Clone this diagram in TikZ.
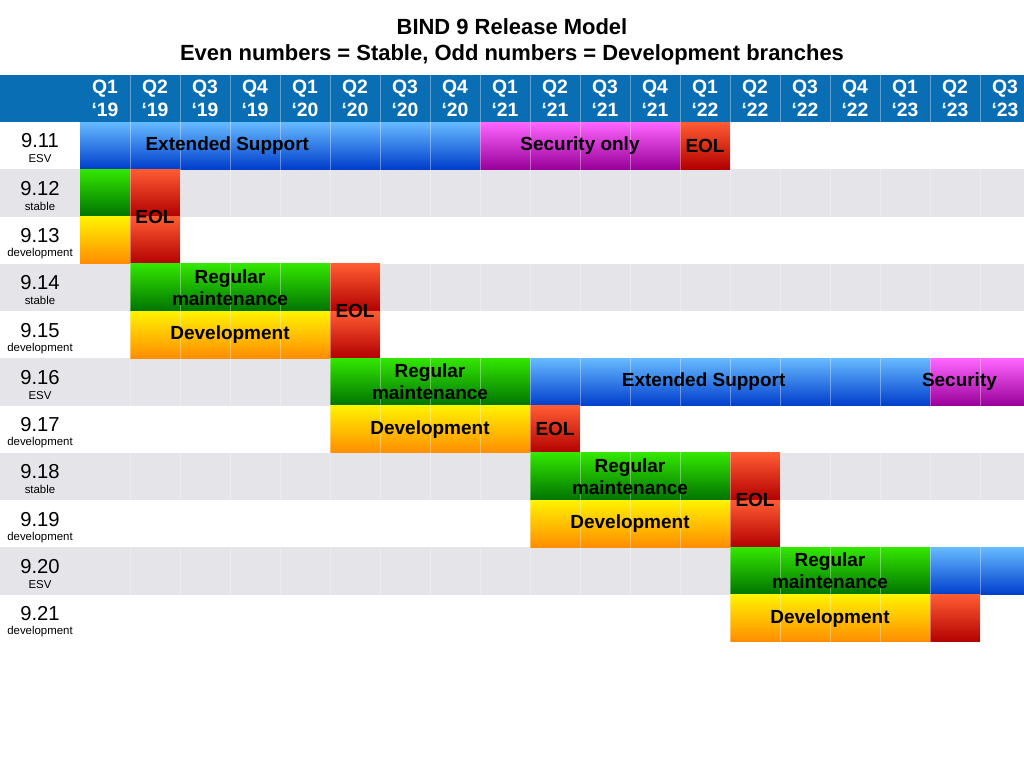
\documentclass[tikz,border=0pt]{standalone}
\usepackage{fontspec}
\setmainfont{Liberation Sans}
\usetikzlibrary{positioning,calc}

\definecolor{hdrblue}{HTML}{0A6EB4}
\definecolor{rowgray}{HTML}{E4E4E9}

\tikzset{
  blueph/.style  = {top color=blue!45!cyan!60, bottom color=blue!70!cyan!80!black},
  greenph/.style = {top color=green!70!black!40!green!80!yellow, bottom color=green!45!black},
  orangeph/.style= {top color=yellow!90!orange, bottom color=orange!90!yellow},
  redph/.style   = {top color=red!60!orange!80!white, bottom color=red!70!black},
  magph/.style   = {top color=magenta!60!white, bottom color=magenta!60!black},
  phlabel/.style = {font=\bfseries\fontsize{10.8}{12.5}\selectfont, align=center, inner sep=0pt},
  qlabel/.style  = {font=\bfseries\fontsize{11}{13}\selectfont, white, align=center, inner sep=0pt},
  verlabel/.style= {font=\fontsize{11.5}{12}\selectfont, inner sep=0pt},
  sublabel/.style= {font=\fontsize{6.5}{7}\selectfont, inner sep=0pt}
}

% \phase{name}{first col}{last col}{row}{style}
\newcommand\phase[5]{%
  \shade[#5] ({80+50*#2},{122+47.27*#4}) rectangle ({min(1024,130+50*#3)},{122+47.27*(#4+1)});
  \coordinate (#1) at ({(80+50*#2+min(1024,130+50*#3))/2},{122+47.27*(#4+0.5)});
}

\begin{document}
\begin{tikzpicture}[x=0.02cm, y=-0.02cm]
  \useasboundingbox (0,0) rectangle (1024,768);

  % title
  \node[font=\bfseries\fontsize{12.5}{15}\selectfont, align=center] (title) at (512,42)
    {BIND 9 Release Model\\Even numbers = Stable, Odd numbers = Development branches};

  % header
  \fill[hdrblue] (0,75) rectangle (1024,122);
  \foreach \q/\yr [count=\c from 0] in {1/19,2/19,3/19,4/19,1/20,2/20,3/20,4/20,1/21,2/21,3/21,4/21,1/22,2/22,3/22,4/22,1/23,2/23,3/23}
    \node[qlabel] (q\c) at ({105+50*\c},98) {Q\q\\‘\yr};

  % gray rows
  \foreach \r in {1,3,5,7,9}
    \fill[rowgray] (0,{122+47.27*\r}) rectangle (1024,{122+47.27*(\r+1)});

  % row labels
  \foreach \v/\s [count=\r from 0] in {11/ESV,12/stable,13/development,14/stable,15/development,16/ESV,17/development,18/stable,19/development,20/ESV,21/development} {
    \node[verlabel] (v\v) at (40,{122+47.27*\r+19}) {9.\v};
    \node[sublabel] (s\v) at (40,{122+47.27*\r+37}) {\s};
  }

  % phases
  \phase{es11}{0}{7}{0}{blueph}
  \phase{so11}{8}{11}{0}{magph}
  \phase{eol11}{12}{12}{0}{redph}
  \phase{rm12}{0}{0}{1}{greenph}
  \phase{eol12}{1}{1}{1}{redph}
  \phase{dv13}{0}{0}{2}{orangeph}
  \phase{eol13}{1}{1}{2}{redph}
  \phase{rm14}{1}{4}{3}{greenph}
  \phase{eol14}{5}{5}{3}{redph}
  \phase{dv15}{1}{4}{4}{orangeph}
  \phase{eol15}{5}{5}{4}{redph}
  \phase{rm16}{5}{8}{5}{greenph}
  \phase{es16}{9}{16}{5}{blueph}
  \phase{se16}{17}{18}{5}{magph}
  \phase{dv17}{5}{8}{6}{orangeph}
  \phase{eol17}{9}{9}{6}{redph}
  \phase{rm18}{9}{12}{7}{greenph}
  \phase{eol18}{13}{13}{7}{redph}
  \phase{dv19}{9}{12}{8}{orangeph}
  \phase{eol19}{13}{13}{8}{redph}
  \phase{rm20}{13}{16}{9}{greenph}
  \phase{es20}{17}{18}{9}{blueph}
  \phase{dv21}{13}{16}{10}{orangeph}
  \phase{eol21}{17}{17}{10}{redph}

  % column separators
  \foreach \c in {1,...,18}
    \draw[white, opacity=0.35, line width=0.4pt] ({80+50*\c},75) -- ({80+50*\c},642);

  % phase labels
  \node[phlabel] (les11) at ([xshift=-30]es11) {Extended Support};
  \node[phlabel] (lso11) at (so11) {Security only};
  \node[phlabel] (leol11) at (eol11) {EOL};
  \node[phlabel] (leol12) at ($(eol12)!0.5!(eol13)$) {EOL};
  \node[phlabel] (lrm14) at (rm14) {Regular\\maintenance};
  \node[phlabel] (leol14) at ($(eol14)!0.5!(eol15)$) {EOL};
  \node[phlabel] (ldv15) at (dv15) {Development};
  \node[phlabel] (lrm16) at (rm16) {Regular\\maintenance};
  \node[phlabel] (les16) at ([xshift=-15]es16) {Extended Support};
  \node[phlabel] (lse16) at ([xshift=-10]se16) {Security};
  \node[phlabel] (ldv17) at (dv17) {Development};
  \node[phlabel] (leol17) at (eol17) {EOL};
  \node[phlabel] (lrm18) at (rm18) {Regular\\maintenance};
  \node[phlabel] (leol18) at ($(eol18)!0.5!(eol19)$) {EOL};
  \node[phlabel] (ldv19) at (dv19) {Development};
  \node[phlabel] (lrm20) at (rm20) {Regular\\maintenance};
  \node[phlabel] (ldv21) at (dv21) {Development};
\end{tikzpicture}
\end{document}
